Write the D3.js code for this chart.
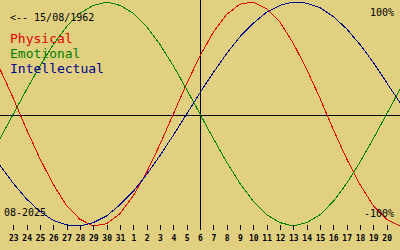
<!DOCTYPE html>
<html>
<head>
<meta charset="utf-8">
<script src="https://cdn.jsdelivr.net/npm/d3@7"></script>
<style>
  html, body { margin: 0; padding: 0; background: #e0d080; }
  svg { display: block; }
  .axis text { font-family: "DejaVu Sans Mono", monospace; font-size: 8px; font-weight: bold; fill: #000; }
  .axis line { stroke: #000; }
  .label { font-family: "DejaVu Sans Mono", monospace; fill: #000; }
</style>
</head>
<body>
<svg width="400" height="250"></svg>
<script>
// days shown across the chart (first and last are just off the ticks)
var days = ["22","23","24","25","26","27","28","29","30","31",
  "1","2","3","4","5","6","7","8","9","10","11","12","13","14","15","16","17","18","19","20","21"];

var physical = [0.40, 0.14, -0.14, -0.40, -0.63, -0.82, -0.94, -1.00, -0.98, -0.89, -0.73, -0.52, -0.27, 0,
  0.27, 0.52, 0.73, 0.89, 0.98, 1.00, 0.94, 0.82, 0.63, 0.40, 0.14, -0.14, -0.40, -0.63, -0.82, -0.94, -1.00];
var emotional = [-0.22, 0, 0.22, 0.43, 0.62, 0.78, 0.90, 0.97, 1.00, 0.97, 0.90, 0.78, 0.62, 0.43, 0.22, 0,
  -0.22, -0.43, -0.62, -0.78, -0.90, -0.97, -1.00, -0.97, -0.90, -0.78, -0.62, -0.43, -0.22, 0, 0.22];
var intellectual = [-0.46, -0.62, -0.76, -0.87, -0.95, -0.99, -1.00, -0.97, -0.91, -0.81, -0.69, -0.54, -0.37, -0.19,
  0, 0.19, 0.37, 0.54, 0.69, 0.81, 0.91, 0.97, 1.00, 0.99, 0.95, 0.87, 0.76, 0.62, 0.46, 0.28, 0.10];

var series = [
  {name: "Physical", values: physical, color: "#e00000"},
  {name: "Emotional", values: emotional, color: "#008000"},
  {name: "Intellectual", values: intellectual, color: "#000090"}
];

var birth = "15/08/1962",
  month = "08-2025",
  today = 15;  // index into days (the 6th)

var svg = d3.select("svg"),
  width = 400,
  height = 250;

svg.append("rect")
  .attr("width", width)
  .attr("height", height)
  .attr("fill", "#e0d080");

var x = d3.scaleLinear()
  .domain([0, days.length - 1])
  .range([0, width]);

var y = d3.scaleLinear()
  .domain([-1, 1])
  .range([226, 2]);

// zero line and today line
svg.append("line")
  .attr("x1", 0).attr("x2", width)
  .attr("y1", Math.round(y(0)) + 1.5).attr("y2", Math.round(y(0)) + 1.5)
  .attr("stroke", "#000");

svg.append("line")
  .attr("x1", Math.round(x(today)) + 0.5).attr("x2", Math.round(x(today)) + 0.5)
  .attr("y1", 0).attr("y2", 230)
  .attr("stroke", "#000");

var line = d3.line()
  .x(function(d, i) { return x(i); })
  .y(function(d) { return y(d); });

svg.selectAll(".curve")
  .data(series)
  .enter().append("path")
  .attr("class", "curve")
  .attr("fill", "none")
  .attr("stroke", function(d) { return d.color; })
  .attr("stroke-width", 1)
  .attr("shape-rendering", "crispEdges")
  .attr("d", function(d) { return line(d.values); });

var axis = svg.append("g")
  .attr("class", "axis")
  .attr("transform", "translate(0,225)")
  .call(d3.axisBottom(x)
    .tickValues(d3.range(1, days.length - 1))
    .tickFormat(function(i) { return days[i]; })
    .tickSize(5)
    .tickPadding(5));
axis.select(".domain").remove();
axis.selectAll("line").attr("shape-rendering", "crispEdges");

// texts
svg.append("text")
  .attr("class", "label")
  .attr("x", 10).attr("y", 21)
  .attr("font-size", 10)
  .text("<-- " + birth);

svg.selectAll(".legend")
  .data(series)
  .enter().append("text")
  .attr("class", "label legend")
  .attr("x", 10)
  .attr("y", function(d, i) { return 43 + i * 15; })
  .attr("font-size", 13)
  .style("fill", function(d) { return d.color; })
  .text(function(d) { return d.name; });

svg.append("text")
  .attr("class", "label")
  .attr("x", 394).attr("y", 16)
  .attr("font-size", 10)
  .attr("text-anchor", "end")
  .text("100%");

svg.append("text")
  .attr("class", "label")
  .attr("x", 394).attr("y", 217)
  .attr("font-size", 10)
  .attr("text-anchor", "end")
  .text("-100%");

svg.append("text")
  .attr("class", "label")
  .attr("x", 4).attr("y", 216)
  .attr("font-size", 10)
  .text(month);
</script>
</body>
</html>
